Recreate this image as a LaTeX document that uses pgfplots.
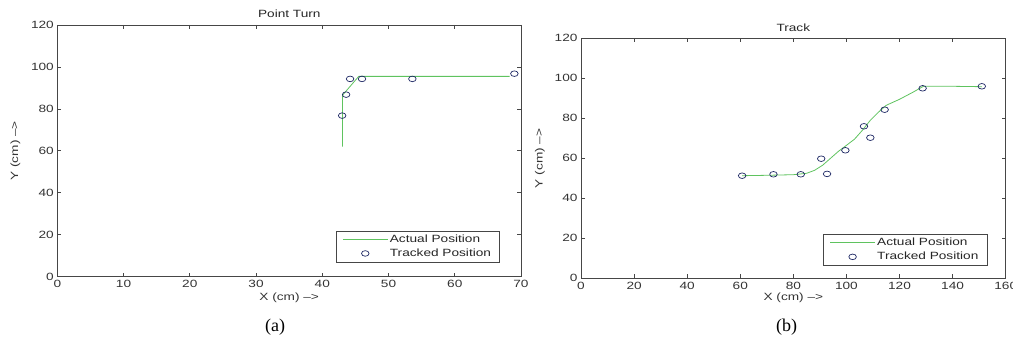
\documentclass[border=0pt]{standalone}
\usepackage{fontspec}
\setmainfont{Liberation Sans}[FakeStretch=1.3]
\newfontfamily\capfont{Liberation Serif}
\usepackage{pgfplots}
\pgfplotsset{compat=1.18}
\definecolor{mlgreen}{RGB}{95,195,95}
\definecolor{mlnavy}{RGB}{30,40,100}
\definecolor{mlaxis}{RGB}{70,70,70}
\newcommand\mf{\fontsize{10.5bp}{12.6bp}\selectfont}
\pgfplotsset{
  mlstyle/.style={
    scale only axis,
    anchor=south west,
    axis line style={mlaxis, line width=0.8bp},
    tick style={mlaxis, line width=0.7bp},
    major tick length=4bp,
    tick align=inside,
    /pgf/number format/assume math mode=true,
    tick label style={font=\mf, text=black!80},
    label style={font=\mf, text=black!80},
    xlabel style={anchor=center, inner sep=0pt},
    ylabel style={anchor=center, inner sep=0pt},
    ymin=0, ymax=120, ytick={0,20,...,120},
    legend style={font=\mf, text=black!85, draw=mlaxis, line width=0.7bp, fill=white,
      inner sep=1.5bp, nodes={inner xsep=1.1bp, inner ysep=1.75bp, text height=8bp, text depth=2.5bp},
      column sep=0.4bp, anchor=south east},
    legend cell align=left,
  },
  actual/.style={mlgreen, line width=0.8bp, no marks,
    legend image code/.code={\path[draw=none] (0bp,0bp) -- (50.1bp,0bp); \draw[##1] (5.1bp,0bp) -- (50.1bp,0bp);}},
  tracked/.style={only marks, mark=o, mark size=2.8bp, mark options={draw=mlnavy, line width=0.7bp, xscale=1.35},
    legend image code/.code={\path[draw=none] (0bp,0bp) -- (50.1bp,0bp); \draw[##1] plot coordinates {(27.4bp,0bp)};}},
}
\begin{document}
\begin{tikzpicture}
\useasboundingbox (0bp,0bp) rectangle (1013bp,339bp);
% ---------- (a) ----------
\begin{axis}[mlstyle,
  at={(57.3bp,62.3bp)}, width=463.7bp, height=251.7bp,
  xmin=0, xmax=70, xtick={0,10,...,70},
  xlabel={X (cm) -->},
  xlabel style={at={(axis description cs:0.5,-0.0834)}},
  ylabel={Y (cm) -->},
  ylabel style={at={(axis description cs:-0.0906,0.5)}},
  legend style={at={(axis description cs:0.9547,0.0572)}},
]
\addplot[actual] coordinates {(43.05,62) (43.05,86.5) (45.5,95.5) (68.3,95.5)};
\addlegendentry{Actual Position}
\addplot[tracked] coordinates {(43.0,76.8) (43.6,86.8) (44.2,94.3) (46.0,94.3) (53.6,94.3) (69.0,96.8)};
\addlegendentry{Tracked Position\hspace*{6bp}\null}
\end{axis}
% ---------- (b) ----------
\begin{axis}[mlstyle,
  at={(581bp,60.7bp)}, width=424.7bp, height=240bp,
  xmin=0, xmax=160, xtick={0,20,...,160},
  xlabel={X (cm) -->},
  xlabel style={at={(axis description cs:0.5,-0.081)}},
  ylabel={Y (cm) -->},
  ylabel style={at={(axis description cs:-0.0965,0.5)}},
  legend style={at={(axis description cs:0.9567,0.0525)}},
]
\addplot[actual] coordinates {(60.7,51.3) (70,51.5) (80,51.8) (85,52.5) (88,54) (91,56.5) (94,60) (97,63.5) (100,66.5) (103,69.5) (106,74) (109,79) (112,83) (115,86.5) (120,89.5) (125,93) (129,96) (140,96) (151,95.8)};
\addlegendentry{Actual Position}
\addplot[tracked] coordinates {(60.7,51.3) (72.5,52.0) (82.8,52.0) (90.5,59.8) (92.7,52.2) (99.6,64.0) (106.6,76.0) (109.0,70.3) (114.4,84.3) (128.7,95.0) (151.0,96.0)};
\addlegendentry{Tracked Position\hspace*{6bp}\null}
\end{axis}
\node[font=\mf, text=black!85, anchor=center, inner sep=0pt] at (289.3bp,325.3bp) {Point Turn};
\node[font=\mf, text=black!85, anchor=center, inner sep=0pt] at (793.3bp,311.3bp) {Track};
\node[font=\capfont\fontsize{18bp}{20bp}\selectfont, anchor=center] at (275bp,12bp) {(a)};
\node[font=\capfont\fontsize{18bp}{20bp}\selectfont, anchor=center] at (786.7bp,12bp) {(b)};
\end{tikzpicture}
\end{document}
